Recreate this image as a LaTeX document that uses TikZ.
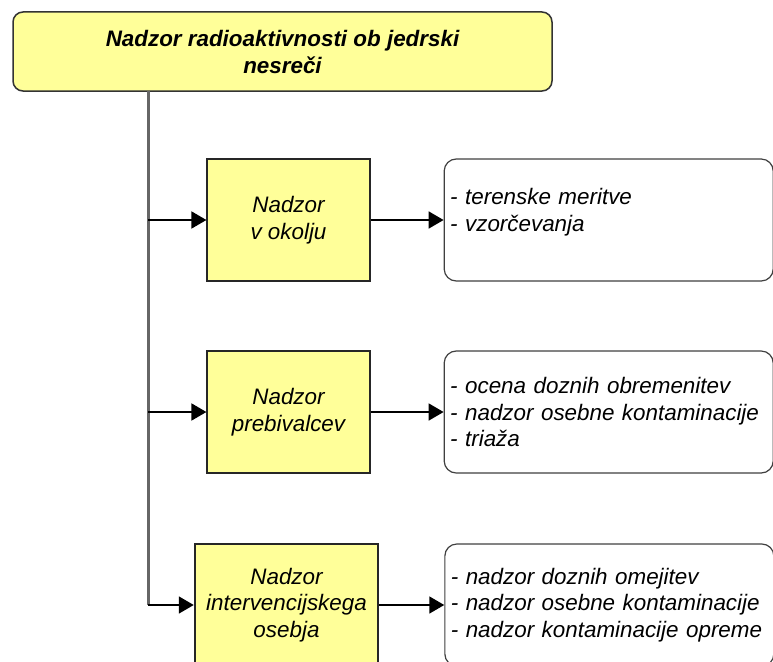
\documentclass[tikz,border=0pt]{standalone}
\usepackage{fontspec}
\setmainfont{Liberation Sans}
\usepackage{xcolor}
\usetikzlibrary{arrows.meta, positioning}
\definecolor{boxyellow}{HTML}{FFFF99}

\begin{document}
\begin{tikzpicture}[
    x=1pt, y=-1pt,
    node distance = 73pt,
    txt/.style = {font=\fontsize{22.4}{26.5}\selectfont\itshape},
    head/.style = {
        rectangle, rounded corners=10pt,
        draw=black!80, line width=1.5pt, fill=boxyellow,
        minimum width=539pt, minimum height=79pt,
        font=\fontsize{22.4}{27}\selectfont\bfseries\itshape,
        align=center, inner sep=0pt
    },
    task/.style = {
        txt, rectangle, draw=black!85, line width=1.2pt, fill=boxyellow,
        minimum width=163pt, minimum height=122pt,
        align=center, inner sep=0pt
    },
    list/.style = {
        txt, rectangle, rounded corners=12pt,
        draw=black!75, line width=1.2pt, fill=white,
        text width=317pt, inner xsep=6pt, minimum height=122pt,
        align=left
    },
    trunk/.style = {draw=black!60, line width=3pt},
    arr/.style   = {-{Triangle[length=15pt, width=17pt]}, line width=1.8pt}
]
\useasboundingbox (0,0) rectangle (773,661);
\clip (0,0) rectangle (773,661);

%% Top node
\node[head] (top) at (282.5,51.5) {Nadzor radioaktivnosti ob jedrski\\nesreči};

%% Task nodes
\node[task] (okolje) at (288.5,220) {Nadzor\\v okolju};
\node[task] (preb)   at (288.5,412) {Nadzor\\prebivalcev};
\node[task, minimum width=183pt, line width=2.5pt] (osebje) at (286.5,605) {Nadzor\\intervencijskega\\osebja};

%% List nodes
\node[list, right=of okolje, text depth=47pt] (lokolje) {- terenske meritve\\- vzorčevanja};
\node[list, right=of preb]   (lpreb)   {- ocena doznih obremenitev\\- nadzor osebne kontaminacije\\- triaža};
\node[list, right=65pt of osebje] (losebje) {- nadzor doznih omejitev\\- nadzor osebne kontaminacije\\- nadzor kontaminacije opreme};

%% Arrows
\coordinate (tr) at (148,91);
\draw[trunk] (tr) -- (tr |- osebje.west);
\draw[arr] (tr |- okolje.west) -- (okolje);
\draw[arr] (tr |- preb.west)   -- (preb);
\draw[arr] (tr |- osebje.west) -- (osebje);
\draw[arr] (okolje) -- (lokolje);
\draw[arr] (preb)   -- (lpreb);
\draw[arr] (osebje) -- (losebje);

\end{tikzpicture}
\end{document}
